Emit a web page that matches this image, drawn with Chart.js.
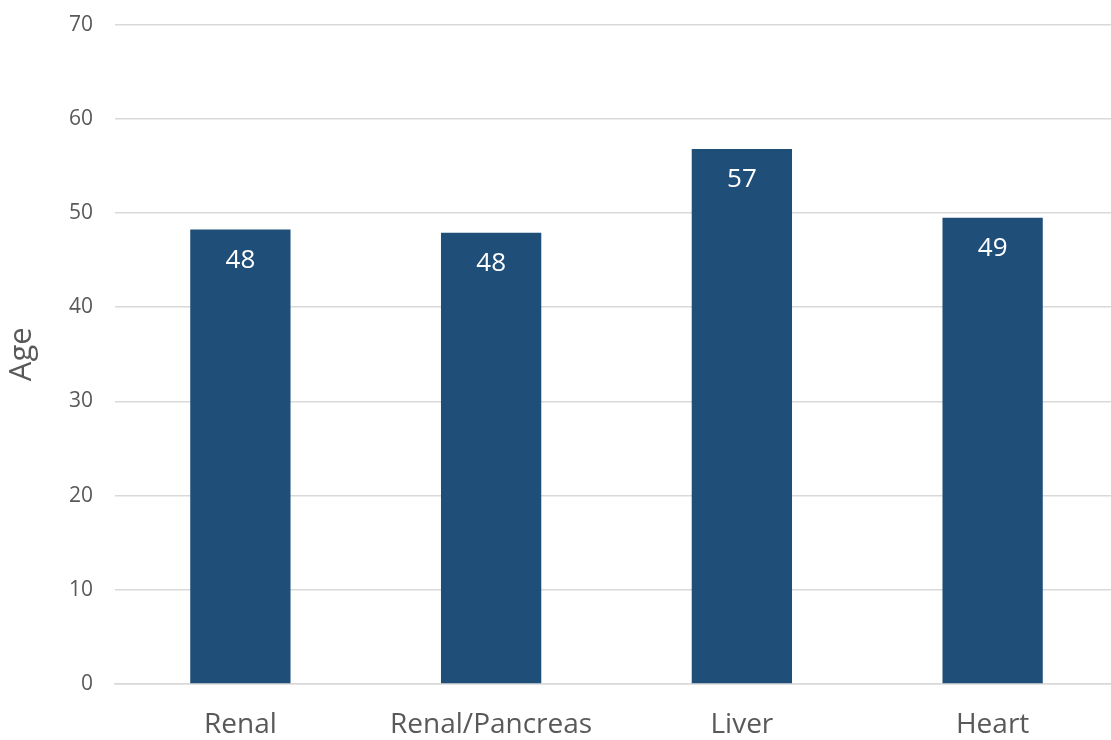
<!DOCTYPE html>
<html>
<head>
<meta charset="utf-8">
<script src="https://cdn.jsdelivr.net/npm/chart.js@4"></script>
<style>
  html, body { margin: 0; padding: 0; background: #fff; overflow: hidden; }
  #wrap { position: absolute; left: 0; top: -10px; width: 1118px; height: 750px; }
</style>
</head>
<body>
<div id="wrap"><canvas id="ageChart"></canvas></div>
<script>
const categories = ['Renal', 'Renal/Pancreas', 'Liver', 'Heart'];
const ageValues = [48.25, 47.9, 56.8, 49.5];
const ageLabels = ['48', '48', '57', '49'];

const FONT = "'Open Sans', 'Noto Sans', sans-serif";

const barLabels = {
    id: 'barLabels',
    afterDatasetsDraw(chart) {
        const { ctx } = chart;
        const meta = chart.getDatasetMeta(0);
        ctx.save();
        ctx.font = '26px ' + FONT;
        ctx.fillStyle = '#ffffff';
        ctx.textAlign = 'center';
        ctx.textBaseline = 'middle';
        meta.data.forEach((bar, i) => {
            ctx.fillText(ageLabels[i], bar.x, bar.y + 31);
        });
        ctx.restore();
    }
};

new Chart(document.getElementById('ageChart'), {
    type: 'bar',
    data: {
        labels: categories,
        datasets: [{
            label: 'Age',
            data: ageValues,
            backgroundColor: '#1F4E79',
            barPercentage: 0.4,
            categoryPercentage: 1.0
        }]
    },
    options: {
        responsive: true,
        maintainAspectRatio: false,
        animation: false,
        layout: { padding: { top: 4, right: 0, left: 0, bottom: 0 } },
        plugins: {
            legend: { display: false },
            tooltip: { enabled: false }
        },
        scales: {
            y: {
                min: 0,
                max: 70,
                ticks: {
                    stepSize: 10,
                    color: '#595959',
                    font: { family: FONT, size: 21 },
                    padding: 22
                },
                grid: { color: '#d9d9d9', lineWidth: 1.5, drawTicks: false },
                border: { display: false },
                title: {
                    display: true,
                    text: 'Age',
                    color: '#595959',
                    font: { family: FONT, size: 31 },
                    padding: { top: 4, bottom: 4 }
                },
                afterFit(axis) { axis.width = 115; }
            },
            x: {
                ticks: {
                    color: '#595959',
                    font: { family: FONT, size: 28 },
                    padding: 16
                },
                grid: { display: false },
                border: { color: '#d9d9d9', width: 1.5 },
                afterFit(axis) { axis.height = 56; }
            }
        }
    },
    plugins: [barLabels]
});
</script>
</body>
</html>
